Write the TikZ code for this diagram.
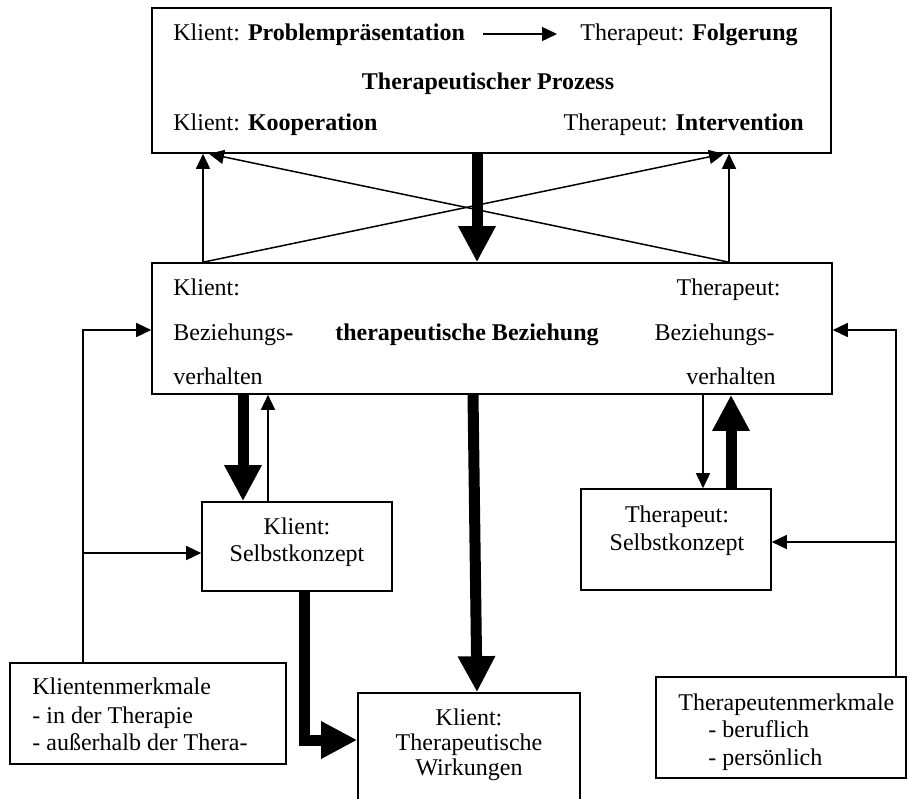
\documentclass[tikz,border=0pt]{standalone}
\usepackage{fontspec}
\setmainfont{Liberation Serif}
\usetikzlibrary{arrows.meta,fit}

\tikzset{
  box/.style={draw, line width=0.8pt, inner sep=0pt, fill=none},
  txt/.style={inner sep=0pt, font=\fontsize{12pt}{14pt}\selectfont},
  thinarr/.style={line width=0.75pt, -{Triangle[length=7.5pt,width=7pt]}},
  thinline/.style={line width=0.75pt},
  thickarr/.style={line width=5.5pt, line join=miter, -{Triangle[length=18pt,width=17.5pt]}},
}

\begin{document}
\begin{tikzpicture}[x=0.5pt, y=-0.5pt]
\useasboundingbox (0,0) rectangle (909,798);
\clip (0,0) rectangle (909,798);
\fill[white] (0,0) rectangle (909,798);

% ---------- boxes ----------
\coordinate (topA) at (152,8);    \coordinate (topB) at (831,153);
\coordinate (midA) at (152,263);  \coordinate (midB) at (832,394);
\coordinate (ksA)  at (202,502);  \coordinate (ksB)  at (392,591);
\coordinate (tsA)  at (581,489);  \coordinate (tsB)  at (771,590);
\coordinate (kmA)  at (10,663);   \coordinate (kmB)  at (286,764);
\coordinate (tmA)  at (656,677);  \coordinate (tmB)  at (906,778);
\coordinate (wiA)  at (358,693);  \coordinate (wiB)  at (580,840);

\node[box, fit=(topA)(topB)] (top) {};
\node[box, fit=(midA)(midB)] (mid) {};
\node[box, fit=(ksA)(ksB)]   (kself) {};
\node[box, fit=(tsA)(tsB)]   (tself) {};
\node[box, fit=(kmA)(kmB)]   (kmerk) {};
\node[box, fit=(tmA)(tmB)]   (tmerk) {};
\node[box, fit=(wiA)(wiB)]   (wirk) {};

% ---------- texts: therapeutic process ----------
\node[txt, anchor=base west] (pp) at (173,40) {Klient: \textbf{Problempräsentation}};
\node[txt, anchor=base east] (fo) at (798,40) {Therapeut: \textbf{Folgerung}};
\node[txt, anchor=base] (tp) at (488,89) {\textbf{Therapeutischer Prozess}};
\node[txt, anchor=base west] (ko) at (173,130) {Klient: \textbf{Kooperation}};
\node[txt, anchor=base east] (iv) at (804,130) {Therapeut: \textbf{Intervention}};
\coordinate (paS) at (483,34);
\coordinate (paE) at (557,34);
\draw[thinarr] (paS) -- (paE);

% ---------- texts: therapeutic relationship ----------
\node[txt, anchor=base west] (k1) at (173,295) {Klient:};
\node[txt, anchor=base west] (k2) at (173,340) {Beziehungs\textbf{-}};
\node[txt, anchor=base west] (k3) at (173,384) {verhalten};
\node[txt, anchor=base] (tb) at (467,340) {\textbf{therapeutische Beziehung}};
\node[txt, anchor=base east] (t1) at (781,295) {Therapeut:};
\node[txt, anchor=base east] (t2) at (775,340) {Beziehungs-};
\node[txt, anchor=base east] (t3) at (776,384) {verhalten};

% ---------- texts: self concepts, effects, characteristics ----------
\node[txt, anchor=base] (ks1) at (297,534) {Klient:};
\node[txt, anchor=base] (ks2) at (297,561) {Selbstkonzept};
\node[txt, anchor=base] (ts1) at (677,522) {Therapeut:};
\node[txt, anchor=base] (ts2) at (677,550) {Selbstkonzept};
\node[txt, anchor=base] (w1) at (469,725) {Klient:};
\node[txt, anchor=base] (w2) at (469,750) {Therapeutische};
\node[txt, anchor=base] (w3) at (469,775) {Wirkungen};
\node[txt, anchor=base west] (km1) at (32,694) {Klientenmerkmale};
\node[txt, anchor=base west] (km2) at (32,723) {- in der Therapie};
\node[txt, anchor=base west] (km3) at (32,750) {- außerhalb der Thera-};
\node[txt, anchor=base west] (tm1) at (678,710) {Therapeutenmerkmale};
\node[txt, anchor=base west] (tm2) at (708,737) {- beruflich};
\node[txt, anchor=base west] (tm3) at (708,765) {- persönlich};

% ---------- connectors between process and relationship ----------
\coordinate (xA) at (203,0);
\coordinate (xB) at (729,0);
\coordinate (xDl) at (209,0);
\coordinate (xDr) at (724,0);
\coordinate (xC) at (477,0);
\draw[thinarr] (mid.north -| xA) -- (top.south -| xA);
\draw[thinarr] (mid.north -| xB) -- (top.south -| xB);
\draw[thinarr] (mid.north -| xA) -- (top.south -| xDr);
\draw[thinarr] (mid.north -| xB) -- (top.south -| xDl);
\draw[thickarr] (top.south -| xC) -- (mid.north -| xC);

% ---------- client side ----------
\coordinate (kL) at (83,330);
\coordinate (kB) at (83,553);
\draw[thinline] (kmerk.north -| kL) -- (kB);
\draw[thinarr] (kB) -- (kL) -- (kL -| mid.west);
\draw[thinarr] (kB) -- (kB -| kself.west);

\coordinate (xK1) at (243,0);
\coordinate (xK2) at (268,0);
\draw[thickarr] (mid.south -| xK1) -- (kself.north -| xK1);
\draw[thinarr] (kself.north -| xK2) -- (mid.south -| xK2);

\coordinate (kW) at (304,740);
\draw[thickarr] (kself.south -| kW) -- (kW) -- (kW -| wirk.west);

% ---------- therapist side ----------
\coordinate (tR) at (896,330);
\coordinate (tB) at (896,542);
\draw[thinline] (tmerk.north -| tR) -- (tB);
\draw[thinarr] (tB) -- (tR) -- (tR -| mid.east);
\draw[thinarr] (tB) -- (tB -| tself.east);

\coordinate (xT1) at (703,0);
\coordinate (xT2) at (731,0);
\draw[thinarr] (mid.south -| xT1) -- (tself.north -| xT1);
\draw[thickarr] (tself.north -| xT2) -- (mid.south -| xT2);

% ---------- relationship to effects ----------
\coordinate (xM1) at (473,0);
\coordinate (xM2) at (477,0);
\draw[thickarr] (mid.south -| xM1) -- (wirk.north -| xM2);
\end{tikzpicture}
\end{document}
